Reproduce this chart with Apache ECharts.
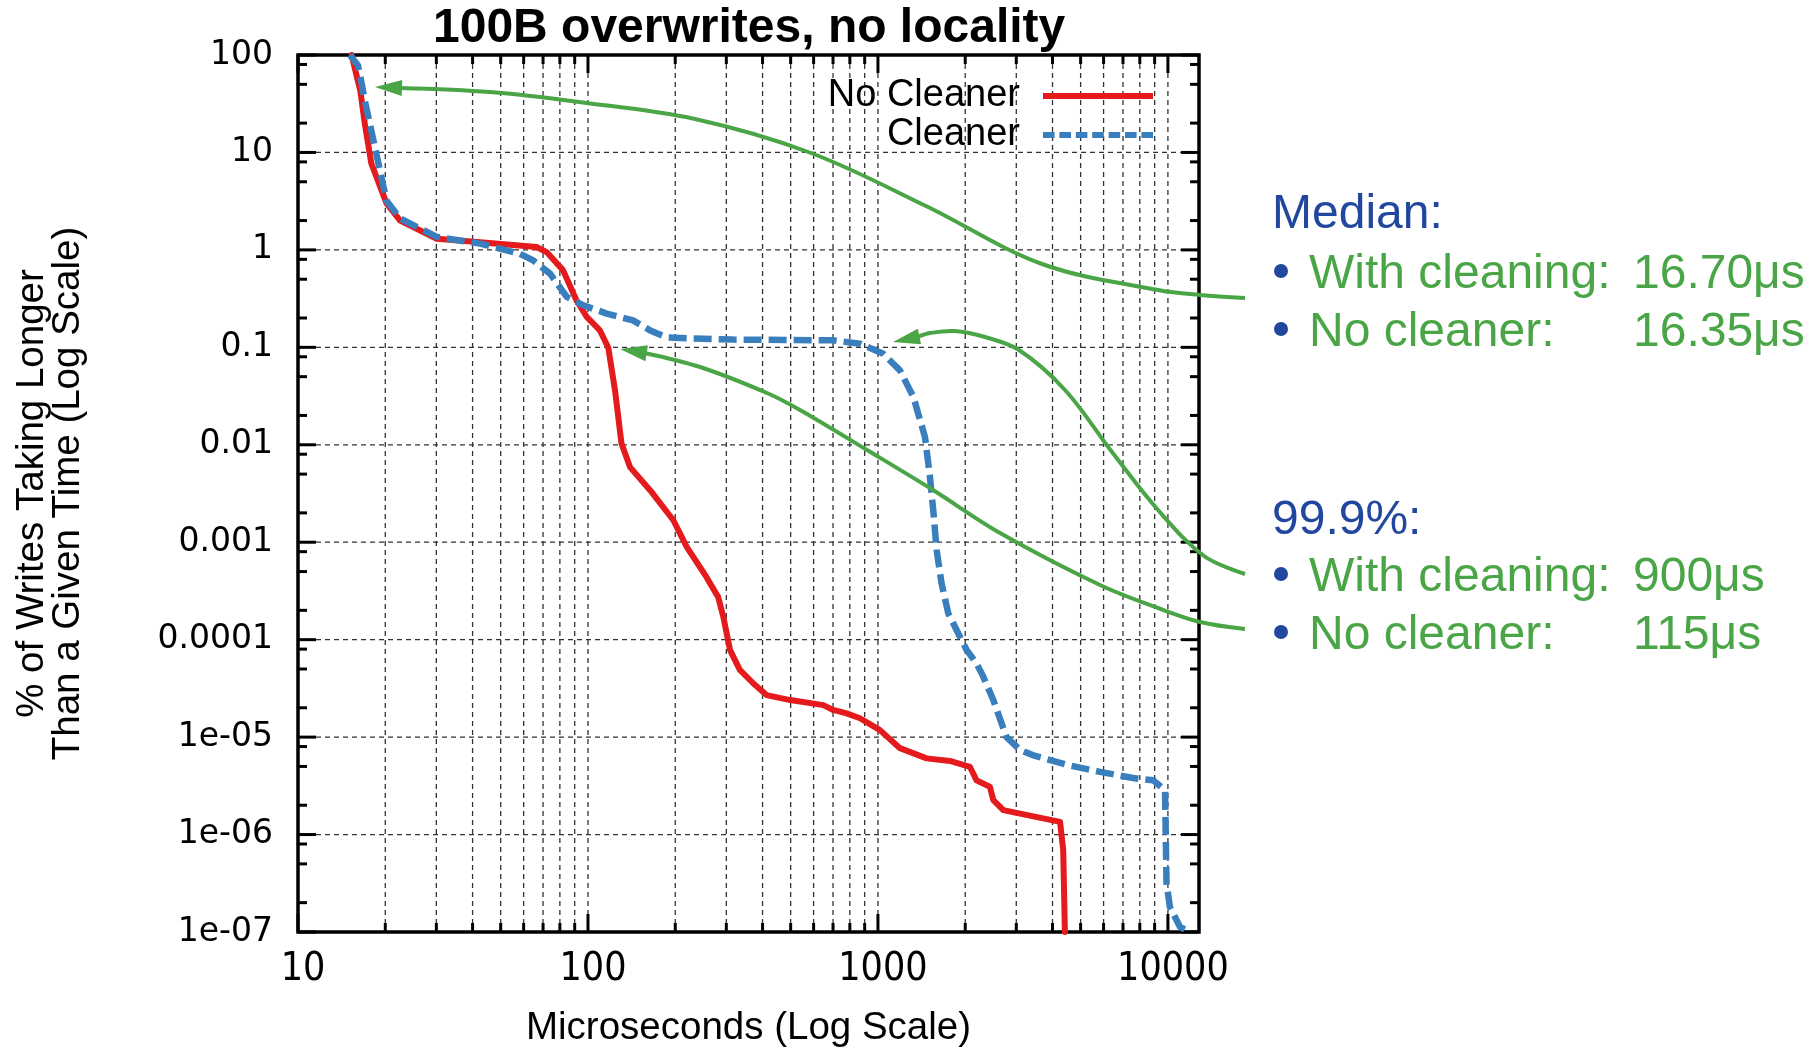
<!DOCTYPE html>
<html><head><meta charset="utf-8">
<script src="https://cdn.jsdelivr.net/npm/echarts@6/dist/echarts.min.js"></script>
<style>html,body{margin:0;padding:0;background:#fff}#c{width:1816px;height:1048px}</style>
</head><body><div id="c"></div>
<script>
// ---------------- data ----------------
const titleText = '100B overwrites, no locality';
const xAxisTitle = 'Microseconds (Log Scale)';
const yAxisTitle = '% of Writes Taking Longer\nThan a Given Time (Log Scale)';
const seriesNames = ['No Cleaner', 'Cleaner'];

const noCleanerUs = [15.3, 16.4, 17.0, 17.9, 20.2, 22.5, 30.1, 42.5, 66.5, 72, 82, 91, 99, 110, 117.5, 124, 130.5, 139.6, 164, 197, 219, 256, 281, 293, 309, 334, 372, 413, 498, 648, 701, 780, 867, 1016, 1191, 1472, 1772, 2075, 2188, 2432, 2500, 2707, 3005, 4246, 4355, 4413];
const noCleanerPct = [100, 43, 19.7, 7.7, 3.0, 2.0, 1.30, 1.20, 1.07, 0.95, 0.62, 0.31, 0.205, 0.149, 0.099, 0.036, 0.0103, 0.0059, 0.0034, 0.00168, 0.000895, 0.00044, 0.000275, 0.000171, 7.8e-5, 4.9e-5, 3.55e-5, 2.7e-5, 2.4e-5, 2.13e-5, 1.9e-5, 1.75e-5, 1.56e-5, 1.18e-5, 7.7e-6, 6.05e-6, 5.7e-6, 4.96e-6, 3.6e-6, 3.1e-6, 2.26e-6, 1.78e-6, 1.67e-6, 1.35e-6, 6.9e-7, 1e-7];

const cleanerUs = [15.1, 16.1, 16.6, 17.0, 18.2, 20.2, 22.5, 30.1, 42.5, 58.3, 64.7, 74, 84.5, 96.4, 116, 143, 164, 187, 317, 702, 867, 1043, 1191, 1325, 1453, 1511, 1552, 1594, 1657, 1748, 1918, 2024, 2188, 2306, 2500, 2776, 3090, 3434, 4477, 5834, 7590, 8893, 9772, 9890, 10160, 11000, 11900];
const cleanerPct = [100, 78, 50, 34, 13.3, 3.2, 2.1, 1.36, 1.16, 0.91, 0.78, 0.57, 0.33, 0.27, 0.222, 0.189, 0.149, 0.126, 0.12, 0.118, 0.109, 0.086, 0.058, 0.031, 0.012, 0.0047, 0.0021, 0.00083, 0.00038, 0.000186, 0.000107, 7.8e-5, 5.7e-5, 4.2e-5, 2.4e-5, 1.0e-5, 7.4e-6, 6.5e-6, 5.2e-6, 4.4e-6, 3.8e-6, 3.6e-6, 2.86e-6, 3.2e-7, 1.8e-7, 1.13e-7, 1.0e-7];

const xMajorTicks = [10, 100, 1000, 10000];
const xTickLabels = ['10', '100', '1000', '10000'];
const xMinorTicks = [20, 30, 40, 50, 60, 70, 80, 90, 200, 300, 400, 500, 600, 700, 800, 900, 2000, 3000, 4000, 5000, 6000, 7000, 8000, 9000];
const yMajorTicks = [1e-7, 1e-6, 1e-5, 1e-4, 1e-3, 0.01, 0.1, 1, 10, 100];
const yTickLabels = ['1e-07', '1e-06', '1e-05', '0.0001', '0.001', '0.01', '0.1', '1', '10', '100'];
const yMinorTicks = [2e-7, 5e-7, 8e-7, 2e-6, 5e-6, 8e-6, 2e-5, 5e-5, 8e-5, 2e-4, 5e-4, 8e-4, 2e-3, 5e-3, 8e-3, 0.02, 0.05, 0.08, 0.2, 0.5, 0.8, 2, 5, 8, 20, 50, 80];
const xRange = [10, 12800];
const yRange = [1e-7, 100];

// annotation texts
const medianHeader = 'Median:';
const medianRows = [['With cleaning:', '16.70μs'], ['No cleaner:', '16.35μs']];
const p999Header = '99.9%:';
const p999Rows = [['With cleaning:', '900μs'], ['No cleaner:', '115μs']];

// ---------------- styles ----------------
const RED = '#e41a1c', BLUE = '#3a7fbd', GREEN = '#4aa546', NAVY = '#22479e';
const SANS = '"Liberation Sans", Arial, Helvetica, sans-serif';
const COND = '"DejaVu Sans Condensed", "Liberation Sans", sans-serif';

const chart = echarts.init(document.getElementById('c'), null, {renderer: 'canvas'});

function log10i(v) { return Math.round(Math.log10(v)); }
function isPow10(v) { const l = Math.log10(v); return Math.abs(l - Math.round(l)) < 1e-6; }

const xTickData = xMajorTicks.map(v => [v, 1, 1]).concat(xMinorTicks.map(v => [v, 1, 0]));
const yTickData = yMajorTicks.map(v => [100, v, 1]).concat(yMinorTicks.map(v => [100, v, 0]));

const GRID_STYLE = {stroke: '#333', lineWidth: 1.3, lineDash: [5, 4]};
const TICK_STYLE = {stroke: '#000', lineWidth: 3};

function renderXTick(params, api) {
  const cs = params.coordSys;
  const px = api.coord([api.value(0), 1])[0];
  const major = api.value(2) === 1;
  const len = major ? 18 : 9;
  const ch = [];
  if (px > cs.x + 3 && px < cs.x + cs.width - 3) {
    ch.push({type: 'line', shape: {x1: px, y1: cs.y, x2: px, y2: cs.y + cs.height}, style: GRID_STYLE});
  }
  ch.push({type: 'line', shape: {x1: px, y1: cs.y + cs.height, x2: px, y2: cs.y + cs.height - len}, style: TICK_STYLE});
  ch.push({type: 'line', shape: {x1: px, y1: cs.y, x2: px, y2: cs.y + len}, style: TICK_STYLE});
  return {type: 'group', children: ch};
}
function renderYTick(params, api) {
  const cs = params.coordSys;
  const py = api.coord([100, api.value(1)])[1];
  const major = api.value(2) === 1;
  const len = major ? 18 : 9;
  const ch = [];
  if (major && py > cs.y + 3 && py < cs.y + cs.height - 3) {
    ch.push({type: 'line', shape: {x1: cs.x, y1: py, x2: cs.x + cs.width, y2: py}, style: GRID_STYLE});
  }
  ch.push({type: 'line', shape: {x1: cs.x, y1: py, x2: cs.x + len, y2: py}, style: TICK_STYLE});
  ch.push({type: 'line', shape: {x1: cs.x + cs.width, y1: py, x2: cs.x + cs.width - len, y2: py}, style: TICK_STYLE});
  return {type: 'group', children: ch};
}

// ---------------- annotations (overlay) ----------------
const arrowPaths = [
  [[1245, 298], [1200, 295], [1158, 290], [1042, 264], [926, 206], [811, 153], [695, 119], [579, 102], [490, 92], [402, 88], [375, 87]],
  [[1245, 574], [1204, 556], [1158, 510], [1112, 452], [1065, 390], [1019, 350], [985, 337], [955, 331], [930, 333], [917, 337], [893, 342]],
  [[1245, 629], [1200, 622], [1158, 608], [1100, 585], [1000, 533], [933, 490], [867, 450], [800, 410], [767, 393], [700, 367], [645, 353], [620, 349]]
];
function arrowGraphics(pts) {
  const tip = pts[pts.length - 1];
  const prev = pts[pts.length - 2];
  let dx = tip[0] - prev[0], dy = tip[1] - prev[1];
  const d = Math.hypot(dx, dy); dx /= d; dy /= d;
  const L = 27, W = 8;
  const bx = tip[0] - dx * L, by = tip[1] - dy * L;
  const shaft = pts.slice(0, pts.length - 1);
  shaft[shaft.length - 1] = [bx + dx * 2, by + dy * 2];
  return [
    {type: 'polyline', shape: {points: shaft, smooth: 0.35}, style: {stroke: GREEN, lineWidth: 4, fill: null}, z: 50},
    {type: 'polygon', shape: {points: [tip, [bx - dy * W, by + dx * W], [bx + dy * W, by - dx * W]]}, style: {fill: GREEN}, z: 51}
  ];
}
const graphics = [];
arrowPaths.forEach(p => graphics.push(...arrowGraphics(p)));
function txt(x, y, s, color) {
  return {type: 'text', x: x, y: y, z: 60, style: {text: s, fill: color, font: '48px ' + SANS, textVerticalAlign: 'middle', textAlign: 'left'}};
}
function bullet(x, y) { return {type: 'circle', shape: {cx: x, cy: y, r: 7}, style: {fill: NAVY}, z: 60}; }
graphics.push(txt(1272, 215, medianHeader, NAVY));
graphics.push(bullet(1281, 271), txt(1309, 275, medianRows[0][0], GREEN), txt(1633, 275, medianRows[0][1], GREEN));
graphics.push(bullet(1281, 329), txt(1309, 333, medianRows[1][0], GREEN), txt(1633, 333, medianRows[1][1], GREEN));
graphics.push(txt(1272, 521, p999Header, NAVY));
graphics.push(bullet(1281, 574), txt(1309, 578, p999Rows[0][0], GREEN), txt(1633, 578, p999Rows[0][1], GREEN));
graphics.push(bullet(1281, 632), txt(1309, 636, p999Rows[1][0], GREEN), txt(1633, 636, p999Rows[1][1], GREEN));

// dashed legend sample for the "Cleaner" series (7 dashes over 110 px)
const DASH_ICON = 'path://M0,0H11.6V6H0Z M16.4,0H28V6H16.4Z M32.8,0H44.4V6H32.8Z M49.2,0H60.8V6H49.2Z M65.6,0H77.2V6H65.6Z M82,0H93.6V6H82Z M98.4,0H110V6H98.4Z';

const option = {
  animation: false,
  backgroundColor: '#fff',
  title: {
    text: titleText, left: 433, top: 4, padding: 0,
    textStyle: {fontFamily: SANS, fontSize: 48, fontWeight: 'bold', color: '#000', lineHeight: 50}
  },
  legend: {
    data: [{name: seriesNames[0], icon: 'rect'}, {name: seriesNames[1], icon: DASH_ICON}],
    orient: 'vertical', align: 'right',
    right: 663, top: 77, padding: 0,
    itemWidth: 110, itemHeight: 6, itemGap: 1,
    textStyle: {fontFamily: SANS, fontSize: 38, color: '#000', lineHeight: 38, padding: [0, 18, 0, 0]}
  },
  grid: {
    left: 298, top: 55, right: 617, bottom: 116,
    show: true, borderColor: '#000', borderWidth: 3.5, backgroundColor: 'transparent',
    outerBoundsMode: 'none', containLabel: false
  },
  xAxis: {
    type: 'log', logBase: 10, min: xRange[0], max: xRange[1],
    name: xAxisTitle, nameLocation: 'middle', nameGap: 77,
    nameTextStyle: {fontFamily: SANS, fontSize: 38.5, color: '#000'},
    axisLine: {show: false}, axisTick: {show: false}, splitLine: {show: false}, minorTick: {show: false},
    axisLabel: {
      margin: 18, fontFamily: COND, fontSize: 39, color: '#000', padding: [0, 0, 0, 10],
      formatter: v => isPow10(v) ? (xTickLabels[xMajorTicks.indexOf(Math.pow(10, log10i(v)))] || '') : ''
    }
  },
  yAxis: {
    type: 'log', logBase: 10, min: yRange[0], max: yRange[1],
    name: yAxisTitle, nameLocation: 'middle', nameGap: 212, nameRotate: 90,
    nameTextStyle: {fontFamily: SANS, fontSize: 38.5, color: '#000', lineHeight: 36, align: 'center'},
    axisLine: {show: false}, axisTick: {show: false}, splitLine: {show: false}, minorTick: {show: false},
    axisLabel: {
      margin: 25, fontFamily: '"DejaVu Sans", sans-serif', fontSize: 33, color: '#000',
      formatter: v => isPow10(v) ? (yTickLabels[log10i(v) + 7] || '') : ''
    }
  },
  series: [
    {type: 'custom', name: 'xgrid', silent: true, z: 1, clip: false, data: xTickData, renderItem: renderXTick},
    {type: 'custom', name: 'ygrid', silent: true, z: 1, clip: false, data: yTickData, renderItem: renderYTick},
    {
      type: 'line', name: seriesNames[0], z: 5, symbol: 'none', showSymbol: false,
      data: noCleanerUs.map((x, i) => [x, noCleanerPct[i]]),
      lineStyle: {color: RED, width: 6, join: 'round', cap: 'round'}, itemStyle: {color: RED}
    },
    {
      type: 'line', name: seriesNames[1], z: 6, symbol: 'none', showSymbol: false,
      data: cleanerUs.map((x, i) => [x, cleanerPct[i]]),
      lineStyle: {color: BLUE, width: 6.5, type: [18, 7], join: 'round'}, itemStyle: {color: BLUE}
    }
  ],
  graphic: graphics
};
chart.setOption(option);
</script></body></html>
